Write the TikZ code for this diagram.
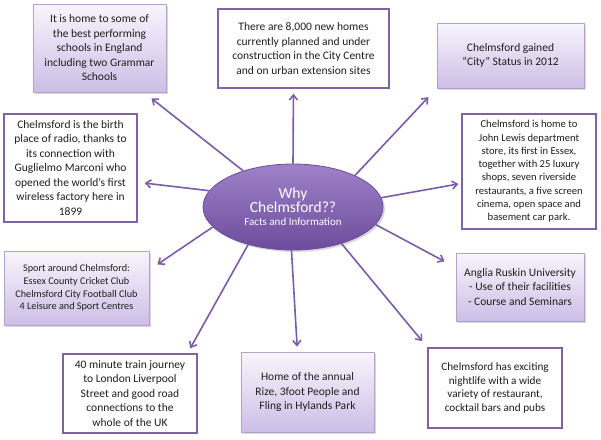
\documentclass[tikz,border=0pt]{standalone}
\usepackage{fontspec}
\setmainfont{Carlito}
\usetikzlibrary{positioning,calc}
\usetikzlibrary{arrows.meta,shapes.geometric,shadows}
\definecolor{PlumLine}{RGB}{128,100,162}
\definecolor{PlumArrow}{RGB}{122,92,168}
\definecolor{PlumTop}{RGB}{158,130,200}
\definecolor{PlumBot}{RGB}{108,76,156}
\definecolor{LilacTop}{RGB}{248,245,252}
\definecolor{LilacBot}{RGB}{205,190,230}
\definecolor{LilacEdge}{RGB}{178,162,205}
\definecolor{InkGray}{RGB}{30,30,30}
\tikzset{
  fact/.style={rectangle,draw=PlumLine,line width=1.4pt,fill=white,text=InkGray,
    align=center,inner sep=0pt,font=\fontsize{11.5}{14.5}\selectfont},
  lilac/.style={fact,draw=LilacEdge,line width=0.8pt,top color=LilacTop,bottom color=LilacBot,
    drop shadow={opacity=0.3,shadow xshift=2pt,shadow yshift=-2pt}},
  hub/.style={ellipse,draw=PlumBot,line width=0.8pt,top color=PlumTop,bottom color=PlumBot,
    text=white,align=center,inner sep=0pt,minimum width=180pt,minimum height=86pt,
    drop shadow={opacity=0.3,shadow xshift=2pt,shadow yshift=-2pt}},
  arr/.style={draw=PlumArrow,line width=1.6pt,-{Straight Barb[length=5pt,width=8pt]}},
}

\begin{document}
\begin{tikzpicture}[x=1pt,y=-1pt]
\useasboundingbox (0,0) rectangle (601,439);
\node[hub] (why) at (293,207)
  {\fontsize{15.5}{16.5}\selectfont Why\\\fontsize{15.5}{16.5}\selectfont Chelmsford??\\[1pt]
   \fontsize{11}{12}\selectfont Facts and Information};
\node[lilac,minimum width=133pt,minimum height=88pt] (schools) at (99.5,48)
  {It is home to some of\\the best performing\\schools in England\\including two Grammar\\Schools};
\node[fact,minimum width=171pt,minimum height=79pt] (homes) at (303.5,48.5)
  {There are 8,000 new homes\\currently planned and under\\construction in the City Centre\\and on urban extension sites};
\node[lilac,minimum width=147pt,minimum height=65pt] (city) at (510.5,55.5)
  {Chelmsford gained\\“City” Status in 2012};
\node[fact,minimum width=133pt,minimum height=108pt] (radio) at (70.5,168)
  {Chelmsford is the birth\\place of radio, thanks to\\its connection with\\Guglielmo Marconi who\\opened the world’s first\\wireless factory here in\\1899};
\node[fact,minimum width=134pt,minimum height=115pt,font=\fontsize{10.6}{13.3}\selectfont] (lewis) at (529,171.5)
  {Chelmsford is home to\\John Lewis department\\store, its first in Essex,\\together with 25 luxury\\shops, seven riverside\\restaurants, a five screen\\cinema, open space and\\basement car park.};
\node[lilac,minimum width=145pt,minimum height=74pt,font=\fontsize{10.2}{12.8}\selectfont] (sport) at (76.5,288)
  {Sport around Chelmsford:\\Essex County Cricket Club\\Chelmsford City Football Club\\4 Leisure and Sport Centres};
\node[lilac,minimum width=128pt,minimum height=68pt] (anglia) at (520,287)
  {Anglia Ruskin University\\- Use of their facilities\\- Course and Seminars};
\node[fact,minimum width=134pt,minimum height=79pt] (train) at (130,393.5)
  {40 minute train journey\\to London Liverpool\\Street and good road\\connections to the\\whole of the UK};
\node[lilac,minimum width=133pt,minimum height=80pt] (rize) at (307.5,392)
  {Home of the annual\\Rize, 3foot People and\\Fling in Hylands Park};
\node[fact,minimum width=134pt,minimum height=80pt,font=\fontsize{11.2}{13.7}\selectfont] (night) at (495,388)
  {Chelmsford has exciting\\nightlife with a wide\\variety of restaurant,\\cocktail bars and pubs};
\draw[arr,shorten >=9.7pt] (why.144) -- (schools.-45.7);
\draw[arr,shorten >=5pt] (why.90) -- (homes.-104.9);
\draw[arr,shorten >=12pt] (why.27) -- (city.south west);
\draw[arr,shorten >=7pt] (why.169) -- (radio.-12);
\draw[arr,shorten >=3pt] (why.6) -- (lewis.-170.8);
\draw[arr,shorten >=9.6pt] (why.194.5) -- (sport.14.5);
\draw[arr,shorten >=12.6pt] (why.-12.5) -- (anglia.163.6);
\draw[arr,shorten >=5.7pt] (why.220) -- (train.35.6);
\draw[arr,shorten >=5pt] (why.268) -- (rize.104.7);
\draw[arr,shorten >=8pt] (why.-37.5) -- (night.north west);
\end{tikzpicture}
\end{document}
